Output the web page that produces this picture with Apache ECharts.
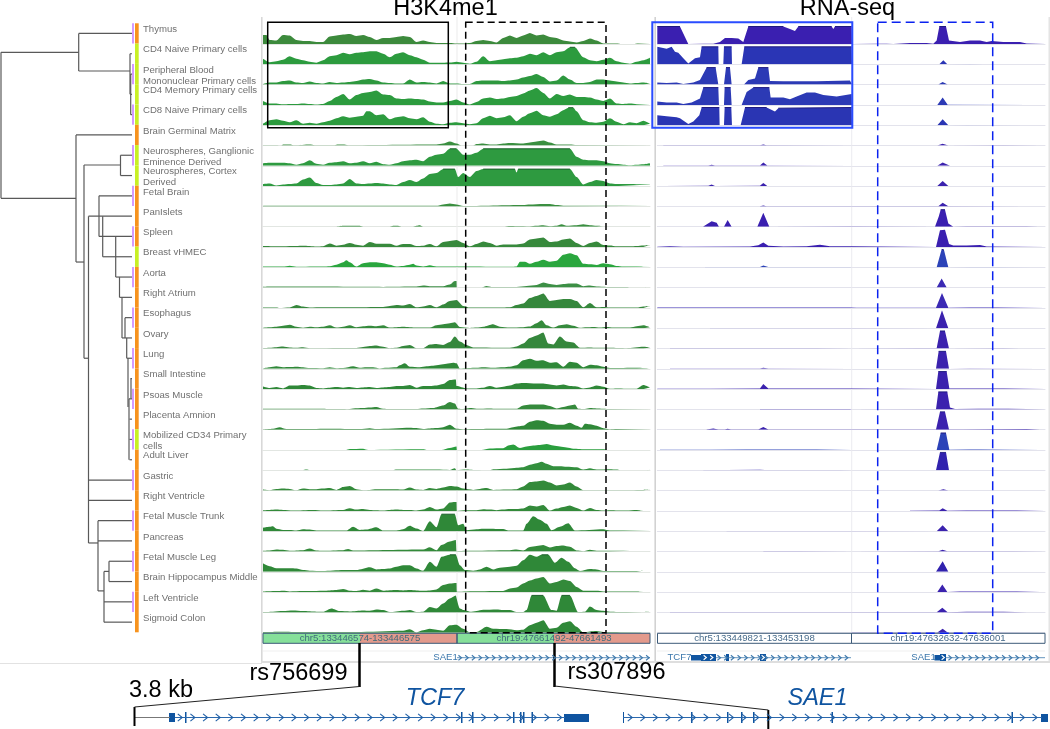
<!DOCTYPE html>
<html><head><meta charset="utf-8">
<style>html,body{margin:0;padding:0;background:#fff}#c{width:1050px;height:729px}</style>
<script src="https://cdn.jsdelivr.net/npm/echarts@6/dist/echarts.min.js"></script>
</head><body><div id="c"></div>
<script>
const tissues = ["Thymus","CD4 Naive Primary cells","Peripheral Blood\nMononuclear Primary cells","CD4 Memory Primary cells","CD8 Naive Primary cells","Brain Germinal Matrix","Neurospheres, Ganglionic\nEminence Derived","Neurospheres, Cortex\nDerived","Fetal Brain","PanIslets","Spleen","Breast vHMEC","Aorta","Right Atrium","Esophagus","Ovary","Lung","Small Intestine","Psoas Muscle","Placenta Amnion","Mobilized CD34 Primary\ncells","Adult Liver","Gastric","Right Ventricle","Fetal Muscle Trunk","Pancreas","Fetal Muscle Leg","Brain Hippocampus Middle","Left Ventricle","Sigmoid Colon"];
const tissueClass = ["o","l","l","l","l","o","l","l","o","o","o","l","o","o","o","o","o","o","o","o","l","o","o","o","o","o","o","o","o","o"];
const alternating = tissues.map((_, i) => (i % 2 === 0 ? 1 : 0));

// H3K4me1 signal per tissue: flat list of position, height
const h3k4me1 = [
[10,9,20,9,30,4,50,3.5,70,9,90,8.5,110,4,130,3,150,3,170,2,190,2,210,7.5,230,8.5,250,9.5,270,10,290,8,310,9,330,7,350,4,370,6,390,6,410,7,430,8,450,7,470,2,490,3.5,510,2,530,1,570,1,590,.5,610,.5,630,1,650,3,670,4,690,3,710,1.5,730,6,750,8.5,770,6,790,8.5,810,11,830,8.5,850,9.5,870,7,890,6,910,3.5,930,2.5,950,1.5,970,3,990,5.5,1010,3.5,1030,.5,1070,.5,1085,0,1120,0,1135,.5,1170,.5],
[10,5.5,30,2,50,3,70,4.5,90,8,110,5.5,130,4,150,2.5,170,1.5,190,4,210,8,230,9,250,11.5,270,10,290,11.5,310,12,330,13,350,13,370,10.5,390,7,410,10.5,430,12,450,9,470,7,490,4.5,510,1.5,550,1.5,570,1.7,590,2.5,610,1.5,630,.5,650,2.5,670,8,690,3,710,4,730,5,750,6,770,6.5,790,8,810,10.5,830,9,850,12,870,9,890,12,910,13,930,17,945,17,970,7,990,4,1010,3,1030,4.5,1050,6.5,1070,3,1090,1.5,1110,.5,1130,2.5,1150,4,1170,6.5],
[10,.5,30,2,50,2,70,3.5,90,4,110,2,130,1.5,150,3,170,1.5,190,1,210,2.5,230,1.5,250,2,270,2.5,290,3.5,310,5,330,5.5,350,4,370,2,390,1.5,410,1,430,1,450,5,470,2,490,2.5,510,2,530,1,550,3.5,570,1,590,1,610,.5,630,.5,650,3.5,670,4,690,4,710,4,730,3.5,750,4,770,5,790,7,810,8.5,830,10.5,850,7.5,870,3,890,4,910,9,930,5,950,1.5,970,1.5,990,2.5,1010,5,1030,5,1050,4,1070,3,1090,2,1110,1,1130,1.5,1150,2,1170,1],
[10,4,30,1.5,50,1.5,70,.7,90,1,110,1,130,1.5,150,1,170,.5,190,1,210,4,230,8,250,11,270,5.5,290,10,310,12,330,13,350,14.5,370,10.5,390,10,410,6.5,430,6,450,6.5,470,6,490,5.5,510,3.5,530,2.5,550,2.5,570,4,590,5.5,610,2.5,630,.5,650,3,670,6.5,690,7.5,710,6,730,6.5,750,8,770,9,790,11.5,810,14.5,830,16.8,850,12,870,6.5,890,11,910,9,930,10.5,950,8,970,8,990,7.5,1010,5.5,1030,4,1050,6.5,1070,1.5,1090,1,1110,1.3,1130,.7,1170,.7],
[10,1.5,30,5,50,6,70,4.5,90,3,110,5,130,1.5,150,2.5,170,1.5,190,3,210,4.5,230,7,250,9,270,7.5,290,8.5,310,9.5,320,14,330,14,350,10,370,11,390,6,410,8,430,9,450,7,470,6,490,8,510,3.5,530,1.5,550,1,570,2.5,590,3,610,2,630,1,650,2,670,7,690,9.5,710,7,730,8,750,10,770,4,790,8.5,810,12,830,14.5,850,10,870,8.5,890,11,910,15,925,17.5,940,17.5,950,14,970,5,990,3,1010,2.5,1030,3.5,1050,7,1070,3.5,1090,1,1110,3,1130,2,1150,4.5,1170,1.5],
[10,.2,50,.3,65,0,70,1,90,1,105,.2,150,1,165,.3,225,.3,235,1,250,1,265,.3,530,1,550,2,570,4,590,2,605,0,640,0,650,1.5,670,2,690,1,710,1,730,2,750,2.5,790,2,810,3,830,4,850,5,870,3,890,1,930,1,950,.5,1170,.5],
[10,2.5,30,3,70,3,90,2.5,110,1,130,2.5,150,5.5,170,2,190,1,210,3,230,3.5,250,4.5,270,2.5,290,3,310,4.5,330,2.5,350,4,370,1.5,390,1,410,2.5,430,4.5,450,5.5,470,6,490,4.5,510,9,530,11,550,12,570,17,590,17,610,11,630,11,650,13,670,17,930,17,950,9,970,6,990,5.5,1010,5.5,1030,4.5,1050,2.5,1070,1.7,1090,1,1110,.5,1130,1,1150,1.5,1170,2.5],
[10,2,30,2.5,50,.5,70,1.5,90,2,110,2.5,130,6.5,150,8.5,170,3,190,1,210,1,230,1.5,250,2.5,270,7,290,2.5,310,2,330,2.5,350,3,370,2.5,390,1.5,410,1,430,4,450,6,470,4,490,7.5,510,12,530,13,550,17,585,17,595,9,610,13,630,9,650,15,670,17,750,17,765,17,770,13.5,775,17,930,17,950,9,970,1.5,990,4,1010,6,1030,5,1050,2.5,1070,2,1170,1.7],
[10,.5,530,.6,550,2,570,3,590,2,610,.4,790,1.5,810,2,850,2.5,870,2.5,890,1.3,910,.6,1170,.6],
[230,0,250,1,300,1,310,0,390,0,400,1,415,1,425,0,460,0,470,1,480,1.5,490,0,735,0,750,.7,770,.5,810,.3,830,1,850,1.5,870,.5,890,1,905,2.5,920,1,950,1.5,970,2.5,990,1.5,1010,1,1030,.7],
[10,1,50,.8,70,.8,110,1,130,1.2,170,.5,190,.8,210,3.5,230,1.3,250,2.3,270,4,290,2.3,310,1.3,330,5,350,3.3,390,3.3,410,1.3,430,3,450,3,470,1,490,1.3,510,3,530,.7,550,5,570,6,590,7,610,4,630,.7,650,3,670,5.5,690,4,710,1.3,730,2.5,770,2.5,790,3.5,810,7.5,830,8.5,850,9.5,870,5,890,5.5,910,7.5,930,8.5,950,4,970,1,990,4,1010,5.5,1030,2,1050,1.5,1070,.7,1110,.7,1130,1,1150,1.5,1170,2],
[10,.7,70,.7,90,1.5,110,.5,190,.7,210,1,230,2.5,250,5,260,7,270,5,290,.7,310,4,330,5,350,5,370,4,390,2.5,410,.7,430,1.3,450,2.5,460,3.5,470,1.7,490,.7,510,2,530,.7,760,.5,770,.7,780,5.5,795,5.5,810,3.5,830,5.5,850,7.5,870,5.5,890,6.5,910,12.5,930,14,950,12,970,3.5,990,3,1010,2.3,1030,4,1050,3,1070,1.3,1090,.7,1170,.5],
[10,.7,30,1,110,1,130,1,370,.7,470,1,490,2,510,1.3,550,1.3,570,3,585,6.5,590,6.5,591,0,665,0,680,1.5,695,.5,715,.5,730,.7,770,.7,800,1.5,830,2.5,850,5,870,3.5,890,2.7,910,3.5,930,4,950,4,970,1.3,990,2,1010,1,1040,.7,1100,.7,1110,0,1150,0,1165,.5],
[10,.5,50,.5,60,0,90,.5,110,3,130,1.3,150,.5,190,.7,270,.7,370,1,390,2,410,3,430,2.5,450,4,470,.7,490,1.5,510,3,530,.7,550,3.5,570,7,590,8,610,2,630,.3,730,.5,750,.7,770,3,790,4.5,810,10,830,12,850,14.5,870,7,890,8,910,9,930,9,950,7,970,.7,990,5,1010,.7,1030,1,1050,.3,1130,.3,1150,1.5,1170,2],
[10,.5,30,1,50,1.5,70,2.5,90,3.5,110,1.5,130,.5,150,1.5,170,1,190,1.5,210,3,230,.7,250,1.5,270,3,290,1,310,2,330,2.5,350,2,370,3,390,.7,430,1.5,470,.7,510,.7,530,3,550,4,570,5,585,6,600,1.3,630,.3,650,.7,670,1.5,700,4,720,1.5,750,.7,790,1,810,1.7,830,5,845,8,860,3,880,.7,900,3,920,4,940,2.5,960,.5,980,1,1000,1.3,1020,.7,1040,1.3,1060,.7,1110,.7,1130,2,1150,3,1170,1],
[10,.3,30,.7,50,1.3,70,2,90,1,110,.7,130,1.3,150,.3,290,.5,310,1.5,330,2.5,350,3,370,1.7,390,.3,410,.7,430,2.5,450,3.5,470,.3,490,.3,510,4,530,4.5,550,3.5,570,6.5,585,12,600,7,620,3.5,640,1,750,.7,770,2,790,5,810,10.5,830,13,850,16,865,5,880,4,900,12,920,7,940,6,960,.7,990,1,1010,.7,1050,.7,1100,.3,1150,1.7,1170,1],
[10,.3,30,1.5,50,2.5,70,1.5,90,1.7,110,2,130,1.5,150,.7,190,.5,210,1.5,230,.5,250,.7,280,2.5,300,1,320,1.5,340,1.5,360,.3,380,1,410,1.5,420,3.5,435,5.5,450,2,480,1.5,500,2.5,520,3,540,4,560,5,580,6,590,5.5,600,.3,650,1,670,1.5,700,1,730,1.5,750,2,770,3.5,790,8.5,810,10,830,8,850,8.5,870,6,890,6.5,910,2,930,7,950,6,970,1.5,990,4,1010,3.5,1030,2,1050,.7,1130,1,1170,.5],
[10,2.5,30,1,50,2,70,.7,90,3.5,110,3.5,130,4,150,3.5,170,1,190,.7,210,1.3,230,2,250,1.3,270,2,290,1,310,1.7,330,2,350,1,370,1.7,390,2,410,3,430,3,450,4,470,1.3,490,3,510,3,530,3.5,550,5,570,9,588,9.5,590,3,620,.7,650,.7,670,1.3,690,3,710,1.3,730,2.3,750,3.5,770,5.5,790,6,830,5.5,850,5.5,870,4.5,890,3.5,910,4.5,930,3,950,2.7,970,.7,990,1.7,1010,3.5,1030,2.3,1050,.3,1070,.7,1130,.3,1150,4,1170,1.5],
[10,.7,190,.7,210,.3,260,.2,280,1,310,1.3,330,2,350,2.5,370,.7,390,.3,470,.3,490,1,520,1.5,550,4,570,7.5,585,6,595,.7,610,.3,630,1.3,650,.7,690,1,710,.7,770,.7,790,4,810,5,850,5,870,3.5,890,1,910,2.5,930,4,945,5,955,.7,975,.3,990,1.3,1010,1,1050,.5,1170,.5],
[10,.2,40,1,60,2.5,80,.7,130,.7,210,1,300,.7,330,1.5,350,.7,450,2,470,1.7,490,.7,510,1.3,530,1.7,550,2.5,570,5,590,1,610,.3,640,.7,700,1,740,1,760,2.5,775,3.5,790,4,810,8,830,9.5,850,9,870,6,890,5,910,5,930,7,950,4,965,2,975,6,990,5.5,1010,4,1030,1.5,1050,.3,1070,.7,1170,.7],
[260,0,270,1,310,1.3,325,0,490,.7,500,0,545,0,570,2,590,3.5,591,0,665,0,690,1.5,730,1.7,745,4.5,760,5.5,780,2,800,3.5,820,4.5,840,5,860,6,880,4.5,900,3.5,920,2.5,940,1.3,980,.7,1030,.7,1040,0],
[130,0,140,.7,150,0,400,0,410,.7,450,.7,490,.7,530,.7,570,.3,585,2,590,0,620,.7,640,.3,690,0,700,1,740,1.5,770,2.5,790,3,810,5.5,830,7,845,8.5,860,6.5,880,4,900,4,920,3.5,950,3,970,.7,990,2,1010,.7,1050,1,1070,.7,1080,0,1160,0,1170,.5],
[10,1,30,.3,50,1.5,70,2,90,1.7,110,.3,130,2,150,1.3,170,1.3,190,2,210,2.5,230,.7,250,3.5,270,4.5,290,1.3,310,.3,330,.7,350,1.3,410,1.3,430,1,450,3,470,1,490,.7,510,2.5,530,1.7,550,3,570,4.5,590,4,610,2,640,.7,680,2.5,700,.7,740,1,770,1.3,790,4,810,8.5,830,9,850,10,870,8,890,5,910,6,930,8,950,4,970,.3,1030,.3,1070,.3,1150,.7,1170,1.3],
[10,.7,30,1,50,1.3,70,1,100,.3,160,1,190,.3,250,1,270,2.7,290,1.3,310,2,330,1,350,.7,370,.3,390,1,410,1.3,430,1,450,1,470,.3,490,1.3,510,4,530,1.3,550,2.5,570,8.5,585,9,590,9,591,0,620,.7,650,.7,670,1.7,690,1.3,710,.7,730,1.3,750,2,770,2,790,2.5,810,5.5,830,4.5,850,6,870,.3,890,2.3,910,4,930,5.5,950,3,970,.3,990,3,1010,1,1030,.3,1050,.7,1100,.3,1130,1,1150,.7],
[10,3.5,30,4.5,40,5,50,2.5,70,1.3,90,1.3,110,.7,130,2,150,1.7,170,.7,260,.7,280,4.5,300,1.3,320,1.7,350,4,370,.7,410,.7,430,2,450,5.5,470,2.7,490,.3,510,10,530,4,545,17,585,17,595,6,610,7.5,620,1,650,2,670,2.5,730,2.3,745,.7,790,.7,800,7.5,820,15,840,11.5,860,7.5,875,1,900,4.5,925,8,945,.7,1030,2,1050,.7,1170,.7],
[10,.7,30,1,50,2,70,1.7,90,.7,130,1.3,150,3,170,1,190,.7,250,1.3,265,2.5,280,1,490,2,510,4.3,530,1.3,545,6.5,570,10,588,11.5,590,.3,620,.7,750,1.3,770,2,790,1,810,4.5,830,5.5,850,6.5,870,4,890,5.5,910,6,930,4.7,950,1,970,.3,990,1.7,1010,.7,1050,.7,1110,.7],
[10,8.5,30,5.5,50,3.5,90,3.5,110,3.3,130,1.7,150,1,190,.7,250,1.7,290,1.7,330,4.5,350,2.3,370,2.7,390,3.3,410,5,430,6.5,450,6.5,470,3.3,490,1,510,10,530,5,545,15,570,17,588,17,600,6.5,615,1.7,640,1,660,2.3,680,5,700,2.3,720,4,750,5,770,6,790,11.5,810,17,830,15,845,17,865,17,885,9,905,14,925,10,945,3.5,960,.7,990,2.7,1010,2.3,1030,.7,1070,.7,1130,.7,1150,1],
[10,.5,50,1,70,1.3,90,.7,130,1,150,1,190,1.3,210,1.7,230,2,250,3,270,1.3,290,1,310,2.3,330,1.3,350,3.5,370,1.3,410,2,430,1.7,450,2,470,1.7,490,1.3,510,1.7,530,2.7,550,7,570,8.5,590,9,591,.3,620,.7,730,1,750,3.5,770,4.5,790,8.5,810,11.5,830,13.5,850,15,870,8.5,890,10,910,12.5,930,11,950,5,970,1.3,1010,1.3,1030,.7,1130,.7,1150,.3],
[10,.3,40,.7,70,1.3,100,2,130,1.3,170,.7,190,.7,215,4,240,1.3,270,1,310,2,330,1.7,350,3,370,2.3,390,.3,430,1.7,450,2.5,470,.3,490,.7,510,5.5,530,4,550,9,570,14,588,17,590,17,600,4,612,2.3,630,.7,650,1.5,670,2.7,710,3,730,2.3,750,2.3,770,.3,790,.3,800,2.3,815,17,850,17,875,2.3,890,1.7,905,17,930,17,955,.3,975,.7,990,6,1010,2.5,1030,1.7,1050,.7,1100,.3,1170,.7],
[10,.7,80,1,110,.7,290,.7,430,2,450,3.5,470,.3,490,2.5,510,4,530,3,550,2,570,7.5,590,8,610,4,630,.3,650,.7,680,6,700,4,740,3.7,770,2.5,790,3,810,7.5,830,10,850,12.5,870,4,890,5,910,10,930,11.5,950,6,970,.3,990,1.3,1010,1.7,1030,.7,1150,.3]
];

// RNA-seq signal per tissue: flat list of position, height
const rnaSeq = [
[22,17.5,90,17.5,115,0,160,.15,190,.15,210,2,225,6,245,6,265,5.5,280,2,295,17.5,400,17.5,420,15,435,13,445,17.5,545,17.5,550,15,555,17.5,605,17.5,606,0,680,.15,710,.15,730,0,780,1,830,1,850,.2,860,3.5,868,17.5,888,17.5,897,3.5,930,2,960,3.5,990,3.5,1010,2,1025,3,1060,2,1110,2,1130,.5,1185,.5],
[22,17.5,50,15.5,65,17.5,75,12.5,85,11.5,100,6,115,.7,135,6,150,7,155,17.5,205,17.5,206,0,220,0,222,17.5,245,17.5,246,0,275,0,283,17.5,605,17.5,606,0,868,0,880,4,892,.1,960,.25,1000,0,1100,.15,1170,.15],
[22,2,50,1.5,80,2,100,.7,130,2,150,4.5,170,17,197,17,205,0,222,0,228,17,240,17,245,0,282,0,295,4.5,315,6,325,17,355,17,360,3.5,400,3.3,500,3.3,600,4,605,4,606,0,865,0,878,2.7,893,.1,1140,.25],
[22,3.5,50,2.5,80,2.5,100,1,125,2.5,150,6.5,160,17.3,205,17.3,207,0,222,0,224,17.3,242,17.3,245,0,275,0,290,13,310,17.3,358,17.3,362,7.3,400,7.3,420,5.7,440,8.3,470,12.3,495,12.3,520,10,560,8.3,605,11,606,0,862,0,878,7.3,893,.2,1140,.3],
[22,10,50,9,80,8,90,7,115,1.3,130,3.7,148,10,155,17.7,208,17.7,209,0,222,0,224,17.7,244,17.7,246,0,272,0,285,17.7,350,17.7,375,13.7,385,17,605,17.7,606,0,862,0,878,6,895,0,950,.3,1130,.3],
[40,.3,170,.3,230,.3,330,.3,340,1,350,.2,605,.1,862,.1,878,1.7,895,.1,1060,.3,1170,.3],
[40,.2,175,.4,185,1,195,.2,330,.4,340,3.3,352,.2,605,.1,862,.1,878,3.3,900,.1,1170,.15],
[40,.2,175,.4,185,1.7,195,.2,330,.4,340,3,352,.2,605,.1,862,.1,878,5,895,.1,1170,.15],
[330,.15,340,1,350,.15,605,.1,865,.1,878,3.7,895,.1,1130,.15],
[160,.2,185,5.5,200,4,207,0,222,0,233,6.7,245,0,322,0,340,14,358,0,600,.1,855,0,866,10,872,17,885,17,895,3.3,910,0,950,.3,980,.15,1130,.15,1165,.15],
[22,.2,60,.7,100,.2,300,.5,325,1.7,340,4.5,355,1.3,400,.5,470,.7,510,2.3,540,.7,605,.7,606,0,858,.1,870,16.7,885,17.3,897,3,910,1.5,950,1.5,990,2.1,1010,.5,1185,1.1],
[165,.4,200,.4,230,.3,330,.4,340,1.7,355,.3,470,.3,600,.3,606,0,860,.1,875,18,882,17.3,895,.1,960,.3,1000,.3,1050,.3,1150,.3],
[360,.2,410,.2,605,.1,860,0,875,9,890,0,980,.15,1020,.15,1110,.2,1185,.2],
[22,.3,60,.3,210,.4,330,.5,410,.4,450,.4,600,.4,620,.15,680,.2,725,.15,858,.1,876,15,895,.1,960,.4,1000,.4,1040,.5,1185,.5],
[180,.15,330,.15,605,.1,858,0,876,18,895,0,1170,.15],
[60,.2,180,.2,330,.2,400,.2,500,.3,605,.1,800,.2,860,.2,870,17.5,885,17.5,897,.1,1060,.3,1110,.2],
[60,.2,180,.2,330,.2,340,1,355,.2,605,.1,858,0,866,17.5,888,17.5,897,0,960,.3,1170,.1],
[22,.3,60,.3,180,.3,330,.5,340,5,355,.5,420,.5,500,.7,600,.5,605,.5,606,0,858,.2,865,17.5,890,17.5,898,.7,960,.7,1000,.7,1030,.5,1185,.5],
[330,.3,400,.3,480,.3,600,.3,606,0,858,.2,865,17.5,892,17.5,900,2,915,.4,985,.7,1075,.7,1185,.2],
[170,.15,190,1.3,205,.15,225,.15,233,1,243,.15,325,.15,340,2.7,355,.15,500,.15,605,.1,800,.15,858,.15,870,18,885,18,897,.15,940,.3,1130,.7,1170,.15],
[30,.3,70,.3,180,.2,290,.4,320,.4,340,.4,500,.4,605,.1,860,.1,872,17,888,17,898,.15,960,.4,990,.4,1170,.1],
[160,.3,230,.3,330,.6,345,.3,400,.3,520,.3,570,.3,605,.1,858,.1,870,18,888,18,897,.1,1170,.1],
[605,.1,865,.1,880,1.3,895,.1,1170,.1],
[780,.2,868,.3,878,2.7,892,.2,950,.4,1000,.4,1100,.4,1185,.4],
[230,.15,340,.15,500,.15,605,.1,860,0,878,6,895,0,1170,.1],
[340,.2,400,.2,450,.2,605,.1,865,.2,878,1.7,892,.2,970,.2,1090,.2,1185,.2],
[190,.15,235,.15,335,.15,605,.1,858,0,878,10.5,895,0,1170,.1],
[50,.2,605,.1,650,.2,700,.2,790,.2,862,.1,877,7.5,892,.1,930,.6,1100,.6,1170,.15],
[60,.2,310,.2,440,.2,550,.2,605,.1,860,.1,877,4.7,893,.1,950,.6,1060,.6,1130,.2],
[605,.1,862,.1,878,4,893,.1,1170,.1]
];

const greenColors = ["#3c8a3c","#2c9b3e","#2d983e","#2c9b3e","#2c9b3e","#3a8f40","#2e9a40","#2e9a40","#3a8f40","#3a8f40","#37893c","#2aa63e","#3c8f45","#35873c","#358a3c","#35873c","#2f8838","#2f8838","#358a3c","#2f8838","#2a9e3e","#338f3e","#338a3a","#338a3a","#2f8838","#338a3a","#2f8838","#338a3a","#2f8838","#2f8838"];
const blueColors = ["#3a1fb0","#2a35b5","#2c3ab5","#2c3ab5","#2a35b3","#3b22ae","#3b22ae","#3b22ae","#3b22ae","#3a1fb0","#3a1fb0","#2c43b8","#3b2ab4","#3b2ab4","#3b22ae","#3b22ae","#3b22ae","#3b22ae","#3b22ae","#3b22ae","#2c43b8","#3122ae","#3b22ae","#3b22ae","#3b22ae","#3b22ae","#3122ae","#3b22ae","#3b22ae","#3b22ae"];

// dendrogram branches: merge height, row, merge height, row
const dendroBranches = [
[1,.93,1,8.12],[1,.93,78.7,.93],[1,8.12,76,8.12],[78.7,0,78.7,1.85],[78.7,0,132,0],[78.7,1.85,130,1.85],
[130,1,130,3],[130,1,132,1],[130,3,130.7,3],[130.7,2,130.7,4],[130.7,2,132,2],[130.7,3,132,3],[130.7,4,132,4],
[76,5,76,11.26],[76,5,132,5],[76,11.26,84,11.26],[84,6.48,84,16],[84,6.48,120.5,6.48],[120.5,6,120.5,7],[120.5,6,132,6],[120.5,7,132,7],
[84,16,88.5,16],[88.5,9,88.5,25.1],[88.5,9,132,9],[99,8,99,10],[99,8,132,8],[99,10,132,10],[102.7,9,102.7,11],[102.7,11,132,11],
[115.7,10,115.7,12],[115.7,12,132,12],[119.5,12,119.5,13],[119.5,13,132,13],[122,13,122,15],[122,15,132,15],[125,14,125,15],[125,14,132,14],
[126.7,15,126.7,16],[126.7,16,132,16],[128,16,128,18.4],[130.5,17,132,17],[131,17,131,18],[129,18,132,18],[129,18,129,21],[129.5,19,132,19],[129.5,20,132,20],[129.5,21,132,21],
[88.5,22,132,22],[88.5,23,132,23],[88.5,25.1,98,25.1],[98,24,98,27.46],[98,24,132,24],[98,25,132,25],[98,27.46,104,27.46],[104,26.5,104,29],[104,26.5,109,26.5],[109,26,109,27],[109,26,132,26],[109,27,132,27],[104,28,132,28],[104,29,132,29]
];

const regionLabels = ["chr5:133446574-133446575","chr19:47661492-47661493","chr5:133449821-133453198","chr19:47632632-47636001"];
const assayTitles = ["H3K4me1","RNA-seq"];
const snpLabels = ["rs756699","rs307896"];
const geneLabels = ["TCF7","SAE1"];

/* ---------- layout ---------- */
const rowPitch = 20.3, firstBaseline = 44, trackH = 18, stripTop = 23.3, stripH = 609, clipLevel = 16.9;
const orange = "#f7931e", lime = "#c8f025", purple = "#c070ff";
const grids = [], xAxes = [], yAxes = [], series = [];
function addGrid(g, x, y) { grids.push(g); xAxes.push(Object.assign({gridIndex: grids.length - 1}, x)); yAxes.push(Object.assign({gridIndex: grids.length - 1}, y)); return grids.length - 1; }
const off = {show: false};

function pairs(f) { const o = []; for (let i = 0; i < f.length; i += 2) o.push([f[i], f[i + 1]]); return o; }
function addTrack(row, flat, left, width, min, max, color, baseColor, capColor, smooth, name) {
  const g = addGrid({left, width, top: firstBaseline + row * rowPitch - trackH, height: trackH},
    {type: "value", min, max, axisLine: {show: true, onZero: false, lineStyle: {color: baseColor, width: 1}}, axisTick: off, axisLabel: off, splitLine: off},
    {type: "value", min: 0, max: trackH, show: false, splitLine: off});
  const pts = pairs(flat);
  series.push({type: "line", name, xAxisIndex: g, yAxisIndex: g, data: pts, showSymbol: false, silent: true, z: 3, smooth, smoothMonotone: "x",
    lineStyle: {width: 0}, itemStyle: {color}, areaStyle: {color, opacity: 1}, animation: false});
  // saturated plateaus carry a darker cap
  const caps = [];
  pts.forEach((p, i) => { const n = pts[i + 1];
    if (n && p[1] >= clipLevel && n[1] >= clipLevel) { caps.push(p, n, [null, null]); } });
  if (caps.length) series.push({type: "line", xAxisIndex: g, yAxisIndex: g, data: caps, showSymbol: false, silent: true, z: 4, connectNulls: false,
    lineStyle: {width: 1, color: capColor}, animation: false});
}
tissues.forEach((t, r) => {
  addTrack(r, h3k4me1[r], 263, 387, 10, 1170, greenColors[r], "#e2e6e2", "#1c5f2a", .25, "H3K4me1 " + t);
  addTrack(r, rnaSeq[r], 657.3, 387.7, 22, 1185, blueColors[r], "#e3e3ec", "#1f1a80", false, "RNA-seq " + t);
});

// tissue label axis
const gl = addGrid({left: 100, width: 43, top: stripTop - 9.5, height: stripH},
  {type: "value", show: false, min: 0, max: 1},
  {type: "category", inverse: true, position: "right", data: tissues, axisLine: off, axisTick: off,
   axisLabel: {interval: 0, margin: 0, verticalAlign: "top", align: "left", lineHeight: 11, fontSize: 9.6, color: "#707070", fontFamily: "Liberation Sans"}});
series.push({type: "bar", xAxisIndex: gl, yAxisIndex: gl, data: tissues.map(() => 0), silent: true, animation: false});

// tissue class strip
const gs = addGrid({left: 135, width: 3.7, top: stripTop, height: stripH},
  {type: "value", show: false, min: 0, max: 1},
  {type: "category", inverse: true, show: false, data: tissues});
series.push({type: "bar", xAxisIndex: gs, yAxisIndex: gs, barWidth: "100%", silent: true, animation: false,
  data: tissues.map((_, i) => ({value: 1, itemStyle: {color: tissueClass[i] === "o" ? orange : lime}}))});
// alternating marker strip
const gp = addGrid({left: 132.3, width: 1.4, top: stripTop, height: stripH},
  {type: "value", show: false, min: 0, max: 1},
  {type: "category", inverse: true, show: false, data: tissues});
series.push({type: "bar", xAxisIndex: gp, yAxisIndex: gp, barWidth: "100%", silent: true, animation: false, itemStyle: {color: purple}, data: alternating});

// dendrogram
const gd = addGrid({left: 0, width: 133, top: stripTop, height: stripH},
  {type: "value", show: false, min: 0, max: 133},
  {type: "value", show: false, inverse: true, min: -.5, max: 29.5});
series.push({type: "custom", xAxisIndex: gd, yAxisIndex: gd, silent: true, animation: false, clip: false,
  data: dendroBranches.map((_, i) => [i]),
  renderItem(p, api) { const b = dendroBranches[p.dataIndex], a = api.coord([b[0], b[1]]), c = api.coord([b[2], b[3]]);
    return {type: "line", shape: {x1: a[0], y1: a[1], x2: c[0], y2: c[1]}, style: {stroke: "#595959", lineWidth: 1.2}}; }});

// page-wide annotation layer, x and y axes in page units
const ga = addGrid({left: 0, top: 0, width: 1050, height: 729},
  {type: "value", show: false, min: 0, max: 1050},
  {type: "value", show: false, inverse: true, min: 0, max: 729});
const pageSeries = (list, z, fn) => series.push({type: "custom", xAxisIndex: ga, yAxisIndex: ga, silent: true, animation: false, clip: false, z,
  data: list.map((_, i) => [i]), renderItem(p, api) { return fn(list[p.dataIndex], api); }});
const rectEl = (d, api, style) => { const a = api.coord([d[0], d[1]]), c = api.coord([d[2], d[3]]);
  return {type: "rect", shape: {x: a[0], y: a[1], width: c[0] - a[0], height: c[1] - a[1]}, style}; };

// frames and dividers
pageSeries([[261,17,262.6,662,"#d8d8d8"],[654.4,17,656,662,"#d2d2d2"],[1048.5,17,1050,662,"#e4e4e4"],[261,661,1050,663,"#dedede"],[0,663,262,664,"#e2e2e2"],
  [456.5,17,457.5,633,"#ececec"],[851.3,17,852.2,633,"#e8e8ee"],[263,650.5,650,651.5,"#f0f0f0"],[657,650.5,1045,651.5,"#f0f0f0"]], 1,
  (d, api) => rectEl(d, api, {fill: d[4]}));

// highlight boxes
pageSeries([[267.7,22.3,448.3,127.7,"#000",null,1.5],[465.7,22.3,606,632.7,"#000",[7,4],1.5],[652.3,22.3,852.3,127.7,"#2a4cff",null,2],[877.7,22.3,992.7,633.3,"#0a22f0",[9,5],1.5]], 8,
  (d, api) => rectEl(d, api, {fill: "none", stroke: d[4], lineWidth: d[6], lineDash: d[5] || undefined}));

// region bars
pageSeries([[263,633.3,360,643.3,"#86e09a"],[360,633.3,457,643.3,"#e39a8c"],[457,633.3,554,643.3,"#86e09a"],[554,633.3,650,643.3,"#e39a8c"]], 5,
  (d, api) => rectEl(d, api, {fill: d[4]}));
pageSeries([[263,633.3,457,643.3],[457,633.3,650,643.3],[657.5,633.3,851.5,643.3],[851.5,633.3,1045,643.3]], 6,
  (d, api) => rectEl(d, api, {fill: "none", stroke: "#3c5a78", lineWidth: 1}));

// genes: thick exons
const geneBlue = "#0f54a0", smallBlue = "#3d78ac";
pageSeries([[169,713,175,722],[564,714,589,722],[1041,714,1048,722],[461,712,462.5,723],[472,712,473.5,723],[513,712,514.5,723],[520,712,521.5,723],[523,712,524.5,723],[531.5,712,533,723],[623,712,624,723],[691,712,692.5,723],[727,712,728.5,723],[741,712,742.5,723],[753,712,754.5,723],[831.5,712,833,723],[1011.5,712,1013,723],[185,712,186.5,723],
  [691,655,701,660.5],[701,654,716,661],[726,654,729,661],[760,654,766,661],[934.5,655,940,660.5],[940,654,946,661]], 7, (d, api) => rectEl(d, api, {fill: geneBlue}));
// gene backbones and leader lines
const lineList = [[134.5,717.5,170,717.5,"#777",1],[175,717.5,565,717.5,"#2a68ad",1],[623,717.5,1042,717.5,"#2a68ad",1],
  [457,657.7,650,657.7,"#3d78ac",.8],[716,657.7,851,657.7,"#3d78ac",.8],[946,657.7,1045,657.7,"#3d78ac",.8],
  [134.5,707,134.5,726,"#000",2],[768.3,710,768.3,729,"#000",2],
  [359.5,643,359.5,687,"#000",2.5],[554.5,643,554.5,687,"#000",2.5],[359.5,686.5,134.5,707,"#222",1],[554.5,686,768.3,710,"#222",1]];
pageSeries(lineList, 7, (d, api) => { const a = api.coord([d[0], d[1]]), c = api.coord([d[2], d[3]]);
  return {type: "line", shape: {x1: a[0], y1: a[1], x2: c[0], y2: c[1]}, style: {stroke: d[4], lineWidth: d[5]}}; });
// chevrons along the genes
const chevrons = [];
function chev(from, to, step, y, s, color) { for (let x = from; x <= to; x += step) chevrons.push([x, y, s, color]); }
chev(180, 562, 12.65, 717.5, 3.6, "#1f5fa6");
chev(630, 1040, 12.65, 717.5, 3.6, "#1f5fa6");
chev(460, 648, 6.7, 657.7, 2.5, smallBlue);
chev(719, 849, 6.7, 657.7, 2.5, smallBlue);
chev(950, 1043, 6.7, 657.7, 2.5, smallBlue);
chev(705, 712, 6.5, 657.5, 2.2, "#fff");
chev(763, 763, 6.5, 657.5, 2.2, "#fff");
chev(943, 943, 6.5, 657.5, 2.2, "#fff");
pageSeries(chevrons, 7.5, (d, api) => { const a = api.coord([d[0], d[1]]);
  return {type: "polyline", shape: {points: [[a[0] - d[2] / 1.6, a[1] - d[2]], [a[0] + d[2] / 1.6, a[1]], [a[0] - d[2] / 1.6, a[1] + d[2]]]}, style: {fill: "none", stroke: d[3], lineWidth: 1.1}}; });

// text
const big = "23.5px 'Liberation Sans'", bigI = "italic 23.5px 'Liberation Sans'", tiny = "9.6px 'Liberation Sans'";
const texts = [
 [445.5,9,assayTitles[0],big,"#000","center"],[847.5,9,assayTitles[1],big,"#000","center"],
 [298.5,674,snpLabels[0],big,"#000","center"],[616.5,673,snpLabels[1],big,"#000","center"],[161,691,"3.8 kb",big,"#000","center"],
 [435,698,geneLabels[0],bigI,geneBlue,"center"],[817.5,698,geneLabels[1],bigI,geneBlue,"center"],
 [360,638.3,regionLabels[0],tiny,"#3f6b7c","center"],[554,638.3,regionLabels[1],tiny,"#3f6b7c","center"],
 [754.5,638.3,regionLabels[2],tiny,"#466a8a","center"],[948,638.3,regionLabels[3],tiny,"#466a8a","center"],
 [445.5,657.7,geneLabels[1],tiny,smallBlue,"center"],[679.5,657.7,geneLabels[0],tiny,smallBlue,"center"],[923.5,657.7,geneLabels[1],tiny,smallBlue,"center"]];
pageSeries(texts, 9, (d, api) => { const a = api.coord([d[0], d[1]]);
  return {type: "text", style: {x: a[0], y: a[1], text: d[2], font: d[3], fill: d[4], align: d[5], verticalAlign: "middle"}}; });

const chart = echarts.init(document.getElementById("c"), null, {renderer: "canvas"});
chart.setOption({animation: false, backgroundColor: "#fff", tooltip: {show: false}, legend: {show: false}, grid: grids, xAxis: xAxes, yAxis: yAxes, series});
</script></body></html>
